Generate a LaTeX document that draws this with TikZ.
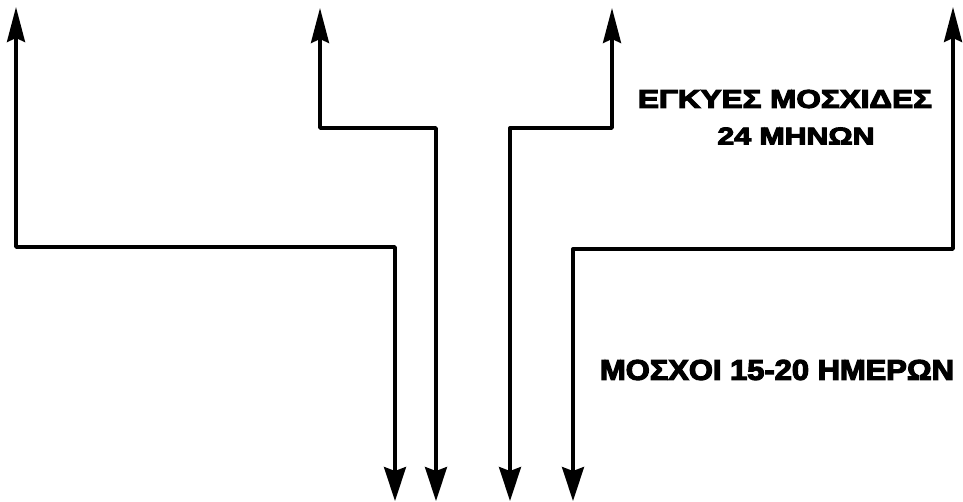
\documentclass[tikz,border=0pt]{standalone}
\usepackage{fontspec}
\setmainfont{Liberation Sans}[BoldFeatures={FakeBold=4}]
\usetikzlibrary{arrows.meta}
\tikzset{
  conn/.style={line width=3.4pt, line join=round,
    {Stealth[length=35pt,width=18pt,inset=4pt]}-{Stealth[length=34pt,width=22pt,inset=4pt]}},
  lbl/.style={inner sep=0pt, font=\bfseries}
}
\begin{document}
\begin{tikzpicture}[x=1pt,y=-1pt]
\useasboundingbox (0,0) rectangle (963,502);
% top ends
\coordinate (t1) at (16,7);
\coordinate (t2) at (320,8);
\coordinate (t3) at (612,8);
\coordinate (t4) at (953,7);
% bottom ends
\coordinate (b1) at (395,501);
\coordinate (b2) at (436,501);
\coordinate (b3) at (510,501);
\coordinate (b4) at (573,501);
% corners at the bottom verticals
\coordinate (k1) at (395,247);
\coordinate (k2) at (436,128);
\coordinate (k3) at (510,128);
\coordinate (k4) at (573,249);
\draw[conn] (t1) |- (k1) -- (b1);
\draw[conn] (t2) |- (k2) -- (b2);
\draw[conn] (t3) |- (k3) -- (b3);
\draw[conn] (t4) |- (k4) -- (b4);
\node[lbl] (l1) at (785,99) {\resizebox{294pt}{18pt}{ΕΓΚΥΕΣ ΜΟΣΧΙΔΕΣ}};
\node[lbl] (l2) at (796,136) {\resizebox{157pt}{17pt}{24 ΜΗΝΩΝ}};
\node[lbl] (l3) at (777,370) {\resizebox{354pt}{20pt}{ΜΟΣΧΟΙ 15-20 ΗΜΕΡΩΝ}};
\end{tikzpicture}
\end{document}
